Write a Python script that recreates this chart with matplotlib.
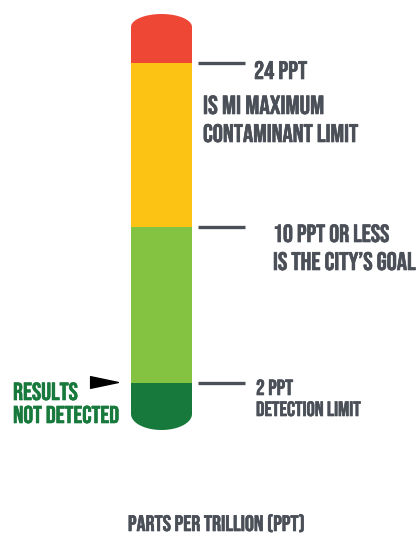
import numpy as np
import matplotlib
matplotlib.use("Agg")
import matplotlib.pyplot as plt
from matplotlib import font_manager
from matplotlib import patheffects as pe
from matplotlib.path import Path
from matplotlib.patches import PathPatch
from matplotlib.transforms import Affine2D

# ---------------- data ----------------
seg_bottoms = [0, 2, 10, 24]          # ppt
seg_tops = [2, 10, 24, 28]            # ppt
seg_colors = ["#17793c", "#84c341", "#fcc314", "#ef4736"]
mark_levels = [24, 10, 2]             # ppt markers
label_lines = ["24 PPT", "IS MI MAXIMUM", "CONTAMINANT LIMIT",
               "10 PPT OR LESS", "IS THE CITY\u2019S GOAL",
               "2 PPT", "DETECTION LIMIT"]
result_lines = ["RESULTS", "NOT DETECTED"]
result_level = 2
axis_title = "PARTS PER TRILLION (PPT)"

# ---------------- layout (pixels from top) ----------------
W, H = 420, 533
scale_ppt = [0, 2, 10, 24, 28]
scale_px = [430, 383, 227, 63, 14]
bar_x0, bar_x1 = 131, 192

ents = font_manager.fontManager.ttflist
names = {f.name for f in ents}
FONT, WEIGHT, STRETCH = "DejaVu Sans", "bold", "normal"
for fam, wt in [("Bebas Neue", "normal"), ("Oswald", "bold"),
                ("Barlow Condensed", "bold"), ("Liberation Sans Narrow", "bold")]:
    if fam in names:
        FONT, WEIGHT = fam, wt
        break
else:
    if any(f.name == "DejaVu Sans" and str(f.stretch) == "condensed" for f in ents):
        STRETCH = "condensed"
GRAY = "#4a4f58"
DGREEN = "#17793c"

fig = plt.figure(figsize=(W / 100, H / 100), dpi=100)
fig.patch.set_facecolor("white")

# bar axes: x in pixels, y in ppt with piecewise-linear function scale
ax = fig.add_axes([0, (H - scale_px[0]) / H, 1, (scale_px[0] - scale_px[-1]) / H])
neg_px = [-p for p in scale_px]
fwd = lambda v: np.interp(v, scale_ppt, neg_px)
inv = lambda u: np.interp(u, neg_px, scale_ppt)
ax.set_yscale("function", functions=(fwd, inv))
ax.set_xlim(0, W)
ax.set_ylim(scale_ppt[0], scale_ppt[-1])
ax.axis("off")

# capsule clip path in figure pixel coords (y up)
cx = (bar_x0 + bar_x1) / 2
rx = (bar_x1 - bar_x0) / 2
cap_top, cap_bot = 13, 16
t1 = np.linspace(0, np.pi, 40)
t2 = np.linspace(np.pi, 2 * np.pi, 40)
yt = H - (scale_px[-1] + cap_top)
yb = H - (scale_px[0] - cap_bot)
verts = np.vstack([
    np.column_stack([cx + rx * np.cos(t1), yt + cap_top * np.sin(t1)]),
    np.column_stack([cx + rx * np.cos(t2), yb + cap_bot * np.sin(t2)]),
])
verts = np.vstack([verts, verts[:1]])
clip = PathPatch(Path(verts, closed=True),
                 transform=Affine2D().scale(1 / W, 1 / H) + fig.transFigure,
                 facecolor="none", edgecolor="none")
fig.add_artist(clip)
clip.set_visible(False)

bars = ax.bar([cx] * len(seg_bottoms), np.subtract(seg_tops, seg_bottoms),
              bottom=seg_bottoms, width=bar_x1 - bar_x0, color=seg_colors,
              linewidth=0)
for b in bars:
    b.set_clip_path(clip)

# marker lines
ax.hlines(mark_levels, 198, 245, color=GRAY, linewidth=2.4, capstyle="butt")

# results arrow
arrow = Path([(-1, -0.42), (1, 0), (-1, 0.42), (-1, -0.42)],
             [Path.MOVETO, Path.LINETO, Path.LINETO, Path.CLOSEPOLY])
ax.plot([104], [result_level + 0.05], marker=arrow, markersize=20,
        color="black", linestyle="none", clip_on=False)

# ---------------- text overlay (pixels) ----------------
tx = fig.add_axes([0, 0, 1, 1])
tx.set_xlim(0, W)
tx.set_ylim(H, 0)
tx.axis("off")
tx.patch.set_alpha(0)
renderer = fig.canvas.get_renderer()


def fit_text(x, y_base, s, width, max_size, color=GRAY, ha="left"):
    t = tx.text(x, y_base, s, fontsize=10, family=FONT, fontweight=WEIGHT,
                fontstretch=STRETCH, color=color, va="baseline", ha=ha)
    w = t.get_window_extent(renderer).width
    t.set_fontsize(min(max_size, 10 * width / w))
    t.set_path_effects([pe.withStroke(linewidth=0.45, foreground=color)])
    return t


# (x, baseline, target width)
pos = [(254, 79, 53), (203, 114, 123), (203, 142, 157),
       (273, 242, 117), (273, 270, 144),
       (256, 395, 37), (256, 416, 106)]
for s, (x, yb_, w) in zip(label_lines, pos):
    fit_text(x, yb_, s, w, 21)
fit_text(13, 400, result_lines[0], 65, 21, color=DGREEN)
fit_text(13, 423, result_lines[1], 107, 21, color=DGREEN)
fit_text(216, 531, axis_title, 178, 21, ha="center")

fig.savefig("out.png", dpi=100, facecolor="white")
